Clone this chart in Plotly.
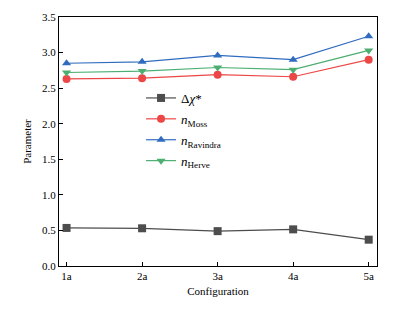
import plotly.graph_objects as go

configs = ["1a", "2a", "3a", "4a", "5a"]
delta_chi = [0.535, 0.53, 0.49, 0.515, 0.37]
n_moss = [2.63, 2.64, 2.69, 2.66, 2.90]
n_ravindra = [2.85, 2.87, 2.96, 2.90, 3.23]
n_herve = [2.72, 2.74, 2.79, 2.76, 3.03]

series = [
    ("Δ<i>χ</i>*", delta_chi, "#4d4d4d", "square"),
    ("<i>n</i><sub>Moss</sub>", n_moss, "#ec4646", "circle"),
    ("<i>n</i><sub>Ravindra</sub>", n_ravindra, "#2f6cc0", "triangle-up"),
    ("<i>n</i><sub>Herve</sub>", n_herve, "#4cae70", "triangle-down"),
]

fig = go.Figure()
for i, (name, vals, color, sym) in enumerate(series):
    fig.add_trace(go.Scatter(
        x=list(range(len(configs))), y=vals, name=name, mode="lines+markers",
        legendgroup=f"g{i}",
        line=dict(color=color, width=1.2),
        marker=dict(symbol=sym, size=8, color=color),
    ))

font = "Liberation Serif, Times New Roman, serif"
fig.update_layout(
    width=414, height=310,
    margin=dict(l=59, r=37, t=11, b=44),
    paper_bgcolor="white", plot_bgcolor="white",
    font=dict(family=font, size=11, color="black"),
    showlegend=True,
    legend=dict(x=0.258, y=0.735, xanchor="left", yanchor="top",
                bgcolor="rgba(0,0,0,0)", font=dict(size=13, family=font),
                itemwidth=30, tracegroupgap=1),
    xaxis=dict(
        range=[-0.1, 4.11], tickmode="array",
        tickvals=list(range(len(configs))), ticktext=configs,
        ticks="inside", ticklen=4, tickcolor="black",
        showline=True, linecolor="black", linewidth=1, mirror=True,
        showgrid=False, zeroline=False,
        title=dict(text="Configuration", standoff=6, font=dict(size=11)),
    ),
    yaxis=dict(
        range=[0, 3.5], dtick=0.5, tickformat=".1f",
        ticks="inside", ticklen=4, tickcolor="black",
        showline=True, linecolor="black", linewidth=1, mirror=True,
        showgrid=False, zeroline=False,
        title=dict(text="Parameter", standoff=8, font=dict(size=11)),
    ),
)
fig.write_html("out.html", config={"displayModeBar": False},
               post_script="document.body.style.margin='0';")
